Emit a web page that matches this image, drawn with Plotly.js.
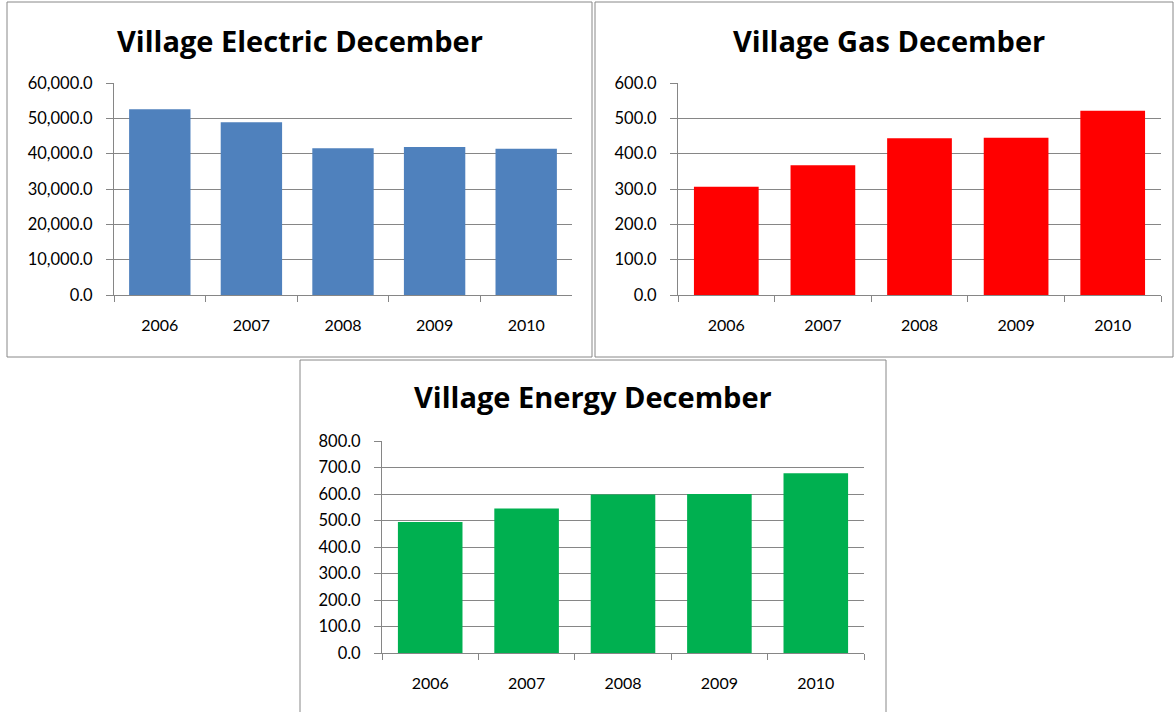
<!DOCTYPE html>
<html>
<head>
<meta charset="utf-8">
<script src="https://cdn.plot.ly/plotly-3.0.1.min.js"></script>
<style>
html,body{margin:0;padding:0;background:#fff;}
#chart{width:1174px;height:712px;}
</style>
</head>
<body>
<div id="chart"></div>
<script>
// ---- Data ----
const years = ["2006", "2007", "2008", "2009", "2010"];
const electricValues = [52550, 48880, 41510, 41890, 41400];
const gasValues = [306.5, 367, 443.4, 445.3, 521.7];
const energyValues = [494.3, 545, 597.7, 600, 678];
const chartTitles = ["Village Electric December", "Village Gas December", "Village Energy December"];

// ---- Layout helpers ----
const W = 1174, H = 712;
const px = x => x / W;
const py = y => 1 - y / H;

const FONT = "Lato, 'Open Sans', sans-serif";
const TITLE_FONT = "'Open Sans', Lato, sans-serif";
const gridColor = "#868686";

function xAxis(x0, x1, anchor) {
  return {
    domain: [px(x0), px(x1)],
    anchor: anchor,
    type: "category",
    showline: true, linecolor: gridColor, linewidth: 1,
    ticks: "outside", ticklen: 6, tickcolor: gridColor, tickson: "boundaries",
    ticklabelstandoff: 16,
    tickfont: {family: FONT, size: 16, color: "#000"},
    showgrid: false, zeroline: false, fixedrange: true
  };
}
function yAxis(y0, y1, anchor, maxV, step) {
  return {
    domain: [py(y1), py(y0)],
    anchor: anchor,
    range: [0, maxV], dtick: step, tick0: 0,
    tickformat: ",.1f",
    showline: true, linecolor: gridColor, linewidth: 1,
    ticks: "outside", ticklen: 7, tickcolor: gridColor,
    ticklabelstandoff: 10,
    showgrid: true, gridcolor: gridColor, gridwidth: 1,
    zeroline: false,
    tickfont: {family: FONT, size: 16.5, color: "#000"},
    fixedrange: true
  };
}

const traces = [
  {type: "bar", x: years, y: electricValues, xaxis: "x", yaxis: "y",
   marker: {color: "#4F81BD"}, hoverinfo: "x+y"},
  {type: "bar", x: years, y: gasValues, xaxis: "x2", yaxis: "y2",
   marker: {color: "#FF0000"}, hoverinfo: "x+y"},
  {type: "bar", x: years, y: energyValues, xaxis: "x3", yaxis: "y3",
   marker: {color: "#00B050"}, hoverinfo: "x+y"}
];

const boxes = [
  [7, 2, 592, 357],
  [595, 2, 1173, 357],
  [300, 360, 886, 714]
];

const layout = {
  width: W, height: H,
  margin: {l: 0, r: 0, t: 0, b: 0},
  paper_bgcolor: "#fff", plot_bgcolor: "rgba(0,0,0,0)",
  showlegend: false,
  bargap: 0.33,
  xaxis: xAxis(114, 572, "y"),
  yaxis: yAxis(83, 295, "x", 60000, 10000),
  xaxis2: xAxis(678, 1161, "y2"),
  yaxis2: yAxis(83, 295, "x2", 600, 100),
  xaxis3: xAxis(382, 864, "y3"),
  yaxis3: yAxis(441, 653, "x3", 800, 100),
  shapes: boxes.map(b => ({
    type: "rect", xref: "paper", yref: "paper",
    x0: px(b[0]), x1: px(b[2]), y0: py(b[3]), y1: py(b[1]),
    line: {color: "#888", width: 1}, fillcolor: "rgba(0,0,0,0)", layer: "below"
  })),
  annotations: [
    {text: chartTitles[0], x: px(300), y: py(40)},
    {text: chartTitles[1], x: px(889), y: py(40)},
    {text: chartTitles[2], x: px(593), y: py(397)}
  ].map(a => Object.assign(a, {
    xref: "paper", yref: "paper", showarrow: false,
    xanchor: "center", yanchor: "middle",
    font: {family: TITLE_FONT, size: 29, color: "#000", weight: "bold"}
  }))
};

Plotly.newPlot("chart", traces, layout, {displayModeBar: false, staticPlot: true});
</script>
</body>
</html>
